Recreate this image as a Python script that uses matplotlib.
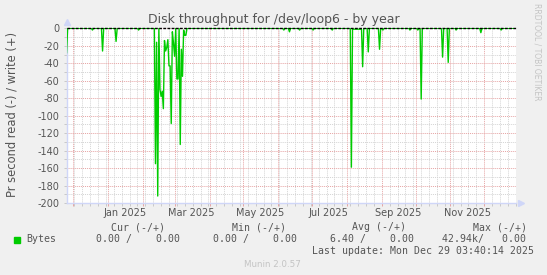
import matplotlib
matplotlib.use("Agg")
import matplotlib.pyplot as plt
import matplotlib.dates as mdates
import matplotlib.transforms as mtransforms
import numpy as np
import pandas as pd

plt.rcParams['axes.unicode_minus'] = False
plt.rcParams['font.family'] = 'DejaVu Sans'

# daily read throughput (negative = read), only days with non-zero reading listed
spike_dates = [
    "2024-11-25", "2024-12-18", "2024-12-27", "2025-01-08", "2025-01-28",
    "2025-02-12", "2025-02-13", "2025-02-14", "2025-02-16", "2025-02-17",
    "2025-02-18", "2025-02-19", "2025-02-20", "2025-02-21", "2025-02-22",
    "2025-02-23", "2025-02-24", "2025-02-25", "2025-02-26", "2025-02-27",
    "2025-02-28", "2025-03-01", "2025-03-03", "2025-03-04", "2025-03-06",
    "2025-03-07", "2025-03-08", "2025-03-09", "2025-03-10", "2025-03-11",
    "2025-06-06", "2025-06-11", "2025-06-20", "2025-07-02", "2025-07-19",
    "2025-08-05", "2025-08-06", "2025-08-07", "2025-08-08", "2025-08-09",
    "2025-08-10", "2025-08-11", "2025-08-12", "2025-08-13", "2025-08-14",
    "2025-08-15", "2025-08-20", "2025-08-30", "2025-09-02", "2025-09-26",
    "2025-10-03", "2025-10-06", "2025-10-25", "2025-10-30", "2025-11-06",
    "2025-11-28", "2025-12-16",
]
spike_values = [
    -28, -2, -26, -15, -2,
    -155, -16, -192, -70, -78,
    -72, -92, -14, -26, -22,
    -13, -43, -43, -109, -4,
    -17, -32, -58, -58, -133,
    -24, -55, -2, -8, -8,
    -2, -4, -2, -2, -2,
    -159, -1, -1, -1, -1,
    -1, -1, -1, -1, -1,
    -44, -27, -24, -2, -2,
    -2, -81, -33, -39, -2,
    -5, -2,
]

start, end = "2024-11-25", "2025-12-29"
series = pd.Series(spike_values, index=pd.to_datetime(spike_dates))
series = series.reindex(pd.date_range(start, end, freq="D"), fill_value=0)

yticks = list(range(0, -201, -20))
month_labels = ["Jan 2025", "Mar 2025", "May 2025", "Jul 2025", "Sep 2025", "Nov 2025"]
label_dates = ["2025-01-16", "2025-03-16", "2025-05-16", "2025-07-16", "2025-09-16", "2025-11-16"]

W, H = 547, 275
fig = plt.figure(figsize=(W / 100, H / 100), dpi=100, facecolor="#F0F0F0")
ax = fig.add_axes([67 / W, 1 - 203 / H, (516 - 67) / W, (203 - 28.3) / H])
ax.set_facecolor("white")

ax.plot(series.index, series.values, color="#00CC00", lw=1.0, zorder=3)
ax.axhline(0, color="black", lw=1.0, ls=(0, (2, 1)), zorder=4, clip_on=False)

ax.set_xlim(pd.Timestamp("2024-11-25 10:00"), pd.Timestamp(end) + pd.Timedelta(hours=5))
ax.set_ylim(-200, 0)

ax.xaxis.set_major_locator(mdates.MonthLocator())
ax.xaxis.set_minor_locator(mdates.WeekdayLocator(byweekday=mdates.MO))
ax.xaxis.set_major_formatter(plt.NullFormatter())
ax.set_yticks(yticks)
ax.set_yticks(range(-190, 0, 20), minor=True)
ax.set_yticklabels([str(v) for v in yticks])

ax.grid(which="minor", color="#d4d4d4", ls=(0, (1, 1)), lw=0.7)
ax.grid(which="major", color="#e6a4a4", ls=(0, (1, 1)), lw=0.7)
ax.set_axisbelow(True)

for s in ["top", "right"]:
    ax.spines[s].set_visible(False)
for s in ["left", "bottom"]:
    ax.spines[s].set_color("#CFD6F8")
    ax.spines[s].set_linewidth(1.0)

ax.tick_params(axis="both", which="both", direction="out", length=2, width=0.7,
               labelsize=7, labelcolor="#555555", pad=3.5)
ax.tick_params(axis="x", which="major", color="#e6a4a4")
ax.tick_params(axis="x", which="minor", color="#c8c8c8")
ax.tick_params(axis="y", which="both", color="#c8c8c8")

# month labels, centred mid-month like rrdtool
trans = mtransforms.blended_transform_factory(ax.transData, fig.transFigure)
for lab, d in zip(month_labels, label_dates):
    ax.text(mdates.date2num(pd.Timestamp(d)), 1 - 216 / H, lab, transform=trans,
            ha="center", va="baseline", fontsize=7, color="#555555")

# axis arrows
ax.plot([0], [1.035], marker="^", ms=4, color="#CFD6F8", transform=ax.transAxes, clip_on=False)
ax.plot([1.012], [0], marker=">", ms=4, color="#CFD6F8", transform=ax.transAxes, clip_on=False)

fig.text(0.5, 1 - 23 / H, "Disk throughput for /dev/loop6 - by year",
         ha="center", va="baseline", fontsize=9, color="#555555")
fig.text(12 / W, 1 - 114 / H, "Pr second read (-) / write (+)", rotation=90,
         ha="center", va="center", fontsize=8.3, color="#555555")
fig.text(537 / W, 1 - 52 / H, "RRDTOOL / TOBI OETIKER", rotation=270,
         ha="center", va="center", fontsize=5.5, color="#c4c4c4")

mono = dict(family="DejaVu Sans Mono", fontsize=7.1, color="#555555", va="baseline")
headers = ["Cur (-/+)", "Min (-/+)", "Avg (-/+)", "Max (-/+)"]
header_x = [111, 231.7, 351.7, 472.7]
values = ["0.00 /    0.00", "0.00 /    0.00", "6.40 /    0.00", "42.94k/   0.00"]
value_x = [95.7, 213.3, 330, 442.3]
for t, x in zip(headers, header_x):
    fig.text(x / W, 1 - 230.5 / H, t, **mono)
for t, x in zip(values, value_x):
    fig.text(x / W, 1 - 242.3 / H, t, **mono)
fig.text(26 / W, 1 - 242.3 / H, "Bytes", **mono)
fig.patches.append(plt.Rectangle((14 / W, 1 - 242.5 / H), 6 / W, 6 / H,
                                 transform=fig.transFigure, color="#00CC00", figure=fig))
fig.text(311.7 / W, 1 - 254 / H, "Last update: Mon Dec 29 03:40:14 2025", **mono)
fig.text(272.7 / W, 1 - 267 / H, "Munin 2.0.57", ha="center", va="baseline",
         fontsize=6.3, color="#c4c4c4")

fig.savefig("out.png", dpi=100, facecolor=fig.get_facecolor())
